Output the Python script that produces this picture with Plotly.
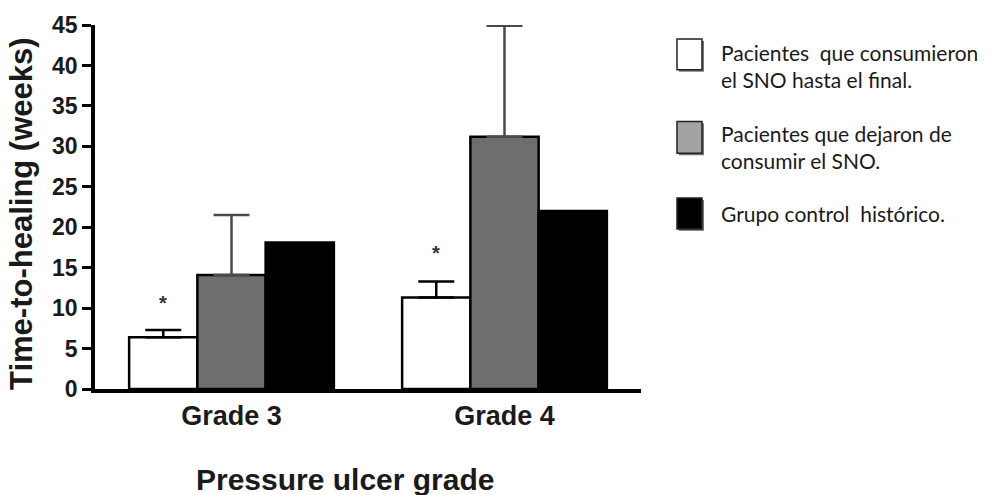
import plotly.graph_objects as go

categories = ["Grade 3", "Grade 4"]
series_names = [
    "Pacientes  que consumieron<br>el SNO hasta el final.",
    "Pacientes que dejaron de<br>consumir el SNO.",
    "Grupo control  histórico.",
]
completed = [6.4, 11.3]
completed_err = [0.9, 2.0]
stopped = [14.1, 31.2]
stopped_err = [7.4, 13.7]
historical = [18.1, 22.0]
yticks = [0, 5, 10, 15, 20, 25, 30, 35, 40, 45]
star_y = [10.6, 16.8]

fig = go.Figure()
fig.add_trace(go.Bar(
    x=categories, y=completed, name=series_names[0],
    marker=dict(color="white", line=dict(color="black", width=2.5)),
    error_y=dict(type="data", symmetric=False, array=completed_err,
                 arrayminus=[0, 0], color="black", thickness=2.5, width=18),
))
fig.add_trace(go.Bar(
    x=categories, y=stopped, name=series_names[1],
    marker=dict(color="#6e6e6e", line=dict(color="black", width=2.5)),
    error_y=dict(type="data", symmetric=False, array=stopped_err,
                 arrayminus=[0, 0], color="#4a4a4a", thickness=2.5, width=18),
))
fig.add_trace(go.Bar(
    x=categories, y=historical, name=series_names[2],
    marker=dict(color="black", line=dict(color="black", width=2.5)),
))

for i, sy in enumerate(star_y):
    fig.add_annotation(x=i - 0.25, y=sy, text="<b>*</b>", showarrow=False,
                       font=dict(family="Liberation Sans", size=20, color="#333"),
                       xref="x", yref="y")

# custom legend
PL, PR, PT, PB = 95, 641, 23, 389
def px(x):
    return (x - PL) / (PR - PL)
def py(y):
    return (PB - y) / (PB - PT)

legend_fills = ["white", "#a3a3a3", "black"]
legend_box_y = [(37, 68), (120, 152), (197, 228)]
legend_text_y = [64, 146, 213]
for fill, (y0, y1), ty, name in zip(legend_fills, legend_box_y, legend_text_y, series_names):
    fig.add_shape(type="rect", xref="paper", yref="paper",
                  x0=px(679), x1=px(704), y0=py(y1 + 2), y1=py(y0 + 2),
                  fillcolor="#777", line=dict(width=0), layer="above")
    fig.add_shape(type="rect", xref="paper", yref="paper",
                  x0=px(677), x1=px(702), y0=py(y1), y1=py(y0),
                  fillcolor=fill, line=dict(color="#222", width=1.5), layer="above")
    fig.add_annotation(xref="paper", yref="paper", x=px(719), y=py(ty),
                       text=name, showarrow=False, xanchor="left", yanchor="middle",
                       align="left",
                       font=dict(family="Lato", size=21, color="#1a1a1a"))

fig.add_annotation(xref="paper", yref="paper", x=px(345), y=py(480),
                   text="<b>Pressure ulcer grade</b>",
                   showarrow=False, xanchor="center", yanchor="middle",
                   font=dict(family="Liberation Sans", size=30, color="#1a1a1a"))

fig.add_annotation(xref="paper", yref="paper", x=px(22), y=py(213),
                   text="<b>Time-to-healing (weeks)</b>", textangle=-90,
                   showarrow=False, xanchor="center", yanchor="middle",
                   font=dict(family="Liberation Sans", size=31, color="#1a1a1a"))

fig.update_layout(
    width=990, height=495,
    margin=dict(l=PL, r=990 - PR, t=PT, b=495 - PB),
    paper_bgcolor="white", plot_bgcolor="white",
    barmode="group", bargap=0.25, bargroupgap=0,
    showlegend=False,
    font=dict(family="Liberation Sans", color="#1a1a1a"),
    xaxis=dict(
        type="category", range=[-0.5, 1.5], showline=True, linecolor="black",
        linewidth=3.5, ticks="", showgrid=False, zeroline=False,
        tickfont=dict(family="Liberation Sans", size=27, color="#1a1a1a", weight="bold"),
    ),
    yaxis=dict(
        range=[0, 45], tickvals=yticks, showline=True, linecolor="black",
        linewidth=3.5, ticks="outside", ticklen=9, tickwidth=3, tickcolor="black",
        showgrid=False, zeroline=False,
        tickfont=dict(family="Liberation Sans", size=23, color="#1a1a1a", weight="bold"),
    ),
)

fig.write_html("out.html", post_script="document.body.style.margin='0';",
               config={"displayModeBar": False})
